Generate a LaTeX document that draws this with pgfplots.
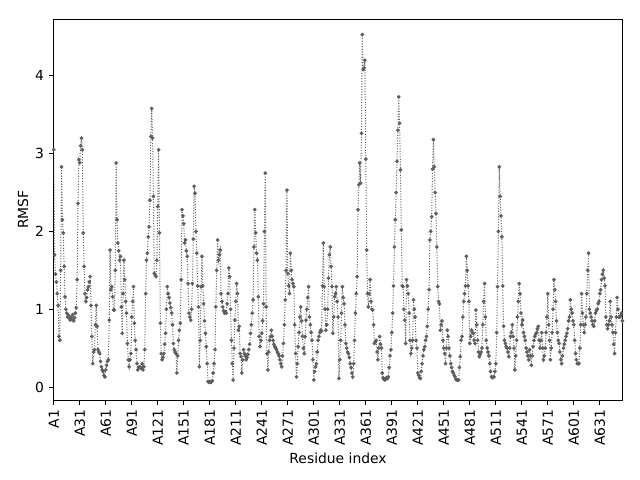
\documentclass[border=0pt]{standalone}
\usepackage{pgfplots}
\pgfplotsset{compat=1.18}
\usepackage{fontspec}
\setmainfont{DejaVu Sans}
\definecolor{lc}{RGB}{95,95,95}
\begin{document}
\begin{tikzpicture}
\useasboundingbox (-38.7bp,-57.4bp) rectangle (422.1bp,288.0bp);
\begin{axis}[
  at={(0,0)}, anchor=south west,
  scale only axis, width=409.4bp, height=274.3bp,
  xmin=0, xmax=656, ymin=-0.167, ymax=4.73,
  xtick={0,30,...,630},
  xticklabels={A1,A31,A61,A91,A121,A151,A181,A211,A241,A271,A301,A331,A361,A391,A421,A451,A481,A511,A541,A571,A601,A631},
  xticklabel style={rotate=90, anchor=east, font=\fontsize{10bp}{12bp}\selectfont},
  ytick={0,1,2,3,4},
  yticklabel style={font=\fontsize{10bp}{12bp}\selectfont},
  /pgf/number format/assume math mode=true,
  tick align=outside, tick pos=left,
  major tick length=3.5bp,
  tick style={black, line width=0.6bp},
  axis line style={black, line width=0.6bp},
  xlabel={Residue index}, ylabel={RMSF},
  label style={font=\fontsize{10bp}{12bp}\selectfont},
  xlabel style={yshift=2bp},
  ylabel style={yshift=-2bp},
]
\addplot[lc, line width=0.72bp, dash pattern=on 0.72bp off 1.2bp, mark=*, mark size=0.95bp, mark options={solid, fill=lc, draw=lc}] coordinates {
(0,3.05) (1,1.70) (2,1.45) (3,1.35) (4,1.20) (5,1.05) (6,0.65) (7,0.60) (8,1.50) (9,2.83)
(10,2.15) (11,1.98) (12,1.55) (13,1.16) (14,1.00) (15,0.95) (16,0.90) (17,0.92) (18,0.88) (19,0.86)
(20,0.90) (21,0.87) (22,0.93) (23,0.85) (24,0.89) (25,0.95) (26,1.02) (27,1.38) (28,2.36) (29,2.92)
(30,2.88) (31,3.10) (32,3.20) (33,3.05) (34,1.98) (35,1.55) (36,1.20) (37,1.10) (38,1.15) (39,1.25)
(40,1.29) (41,1.35) (42,1.42) (43,1.05) (44,0.65) (45,0.30) (46,0.45) (47,0.48) (48,0.80) (49,1.05)
(50,0.78) (51,0.48) (52,0.45) (53,0.43) (54,0.33) (55,0.26) (56,0.22) (57,0.20) (58,0.15) (59,0.13)
(60,0.22) (61,0.28) (62,0.33) (63,0.35) (64,0.86) (65,1.76) (66,1.25) (67,1.29) (68,1.16) (69,0.99)
(70,0.99) (71,1.50) (72,2.88) (73,2.15) (74,1.85) (75,1.75) (76,1.63) (77,1.68) (78,1.03) (79,0.69)
(80,1.20) (81,1.63) (82,1.38) (83,1.10) (84,0.95) (85,0.56) (86,0.35) (87,0.26) (88,0.35) (89,0.43)
(90,0.90) (91,1.10) (92,1.29) (93,0.82) (94,0.60) (95,0.48) (96,0.30) (97,0.22) (98,0.25) (99,0.26)
(100,0.25) (101,0.24) (102,0.30) (103,0.22) (104,0.26) (105,0.48) (106,1.20) (107,1.63) (108,1.72) (109,1.93)
(110,2.06) (111,2.40) (112,3.22) (113,3.58) (114,3.20) (115,2.45) (116,1.46) (117,1.44) (118,1.42) (119,1.63)
(120,2.32) (121,3.05) (122,1.98) (123,0.82) (124,0.43) (125,0.35) (126,0.38) (127,0.43) (128,0.55) (129,0.69)
(130,1.00) (131,1.29) (132,1.20) (133,1.15) (134,1.08) (135,1.02) (136,0.95) (137,0.80) (138,0.56) (139,0.48)
(140,0.45) (141,0.43) (142,0.18) (143,0.40) (144,0.60) (145,0.73) (146,0.82) (147,1.38) (148,2.28) (149,2.20)
(150,2.10) (151,1.85) (152,1.89) (153,1.75) (154,1.68) (155,1.33) (156,0.95) (157,0.90) (158,0.86) (159,1.00)
(160,1.33) (161,1.90) (162,2.58) (163,2.49) (164,2.00) (165,1.72) (166,1.30) (167,1.03) (168,0.26) (169,0.60)
(170,1.29) (171,1.68) (172,1.30) (173,1.07) (174,0.85) (175,0.69) (176,0.52) (177,0.30) (178,0.07) (179,0.06)
(180,0.07) (181,0.06) (182,0.07) (183,0.08) (184,0.18) (185,0.30) (186,0.48) (187,1.03) (188,1.50) (189,1.89)
(190,1.63) (191,1.70) (192,1.76) (193,1.20) (194,1.10) (195,1.03) (196,0.98) (197,0.95) (198,0.97) (199,0.95)
(200,1.07) (201,1.20) (202,1.53) (203,1.42) (204,1.00) (205,0.60) (206,0.30) (207,0.09) (208,0.50) (209,0.86)
(210,1.10) (211,1.33) (212,1.20) (213,0.73) (214,0.78) (215,0.43) (216,0.39) (217,0.18) (218,0.35) (219,0.48)
(220,0.43) (221,0.40) (222,0.35) (223,0.38) (224,0.42) (225,0.48) (226,0.55) (227,0.69) (228,0.80) (229,0.95)
(230,1.12) (231,1.80) (232,2.28) (233,1.98) (234,1.72) (235,1.63) (236,1.16) (237,0.65) (238,0.52) (239,0.60)
(240,0.69) (241,0.85) (242,1.07) (243,2.00) (244,2.75) (245,1.03) (246,0.43) (247,0.22) (248,0.45) (249,0.60)
(250,0.65) (251,0.73) (252,0.65) (253,0.60) (254,0.55) (255,0.52) (256,0.50) (257,0.48) (258,0.45) (259,0.43)
(260,0.40) (261,0.35) (262,0.30) (263,0.26) (264,0.40) (265,0.56) (266,0.80) (267,1.12) (268,1.50) (269,2.53)
(270,1.46) (271,1.30) (272,1.20) (273,1.72) (274,1.50) (275,1.38) (276,1.33) (277,1.29) (278,0.80) (279,0.43)
(280,0.13) (281,0.30) (282,0.52) (283,0.70) (284,0.90) (285,1.03) (286,0.85) (287,0.65) (288,0.50) (289,0.43)
(290,0.65) (291,0.86) (292,1.00) (293,1.15) (294,1.29) (295,0.90) (296,0.80) (297,0.70) (298,0.60) (299,0.35)
(300,0.09) (301,0.20) (302,0.26) (303,0.30) (304,0.45) (305,0.60) (306,0.65) (307,0.70) (308,0.73) (309,0.72)
(310,1.30) (311,1.85) (312,1.29) (313,1.00) (314,0.73) (315,0.80) (316,1.00) (317,1.40) (318,1.70) (319,1.80)
(320,1.55) (321,1.29) (322,0.69) (323,0.90) (324,1.16) (325,1.20) (326,1.29) (327,1.10) (328,0.90) (329,0.11)
(330,0.35) (331,0.60) (332,0.95) (333,1.29) (334,1.15) (335,1.07) (336,0.80) (337,0.56) (338,0.50) (339,0.45)
(340,0.43) (341,0.38) (342,0.30) (343,0.25) (344,0.18) (345,0.13) (346,0.30) (347,0.60) (348,0.95) (349,1.20)
(350,1.42) (351,2.28) (352,2.60) (353,2.88) (354,2.62) (355,3.26) (356,4.53) (357,4.08) (358,4.10) (359,4.20)
(360,2.93) (361,1.76) (362,1.20) (363,1.03) (364,1.20) (365,1.38) (366,1.10) (367,1.00) (368,0.99) (369,0.80)
(370,0.56) (371,0.58) (372,0.60) (373,0.45) (374,0.35) (375,0.50) (376,0.65) (377,0.55) (378,0.50) (379,0.18)
(380,0.12) (381,0.10) (382,0.09) (383,0.10) (384,0.12) (385,0.11) (386,0.13) (387,0.25) (388,0.40) (389,0.48)
(390,0.70) (391,0.95) (392,1.30) (393,1.80) (394,2.15) (395,2.50) (396,2.90) (397,3.30) (398,3.73) (399,3.39)
(400,2.79) (401,2.02) (402,1.30) (403,1.29) (404,1.00) (405,0.86) (406,0.56) (407,1.38) (408,1.30) (409,1.20)
(410,0.95) (411,0.60) (412,0.43) (413,0.50) (414,0.60) (415,1.12) (416,1.00) (417,0.90) (418,0.60) (419,0.50)
(420,0.18) (421,0.15) (422,0.12) (423,0.11) (424,0.20) (425,0.30) (426,0.40) (427,0.48) (428,0.52) (429,0.60)
(430,0.65) (431,0.78) (432,1.00) (433,1.25) (434,1.89) (435,2.00) (436,2.19) (437,2.80) (438,3.18) (439,2.83)
(440,2.50) (441,2.23) (442,1.80) (443,1.29) (444,1.10) (445,1.07) (446,0.73) (447,0.80) (448,0.85) (449,0.60)
(450,0.50) (451,0.43) (452,0.30) (453,0.50) (454,0.73) (455,0.65) (456,0.50) (457,0.40) (458,0.30) (459,0.25)
(460,0.20) (461,0.18) (462,0.15) (463,0.13) (464,0.10) (465,0.09) (466,0.09) (467,0.09) (468,0.25) (469,0.39)
(470,0.60) (471,0.65) (472,0.90) (473,1.10) (474,1.20) (475,1.30) (476,1.68) (477,1.50) (478,1.30) (479,1.10)
(480,0.56) (481,0.65) (482,0.73) (483,0.70) (484,0.69) (485,0.60) (486,0.56) (487,0.99) (488,0.80) (489,0.60)
(490,0.45) (491,0.39) (492,0.42) (493,0.45) (494,0.50) (495,0.80) (496,1.10) (497,1.33) (498,0.90) (499,0.60)
(500,0.50) (501,0.45) (502,0.40) (503,0.30) (504,0.20) (505,0.13) (506,0.12) (507,0.13) (508,0.13) (509,0.20)
(510,0.30) (511,0.70) (512,1.29) (513,2.00) (514,2.83) (515,2.45) (516,2.20) (517,1.93) (518,1.30) (519,0.78)
(520,0.60) (521,0.56) (522,0.52) (523,0.50) (524,0.45) (525,0.39) (526,0.50) (527,0.65) (528,0.70) (529,0.80)
(530,0.65) (531,0.50) (532,0.22) (533,0.40) (534,0.60) (535,0.90) (536,1.10) (537,1.33) (538,1.20) (539,0.95)
(540,0.80) (541,0.86) (542,0.70) (543,0.65) (544,0.60) (545,0.50) (546,0.45) (547,0.40) (548,0.35) (549,0.48)
(550,0.40) (551,0.28) (552,0.40) (553,0.52) (554,0.60) (555,0.65) (556,0.68) (557,0.70) (558,0.75) (559,0.78)
(560,0.60) (561,0.50) (562,0.60) (563,0.70) (564,0.50) (565,0.35) (566,0.40) (567,0.50) (568,0.70) (569,0.90)
(570,1.20) (571,0.80) (572,0.60) (573,0.35) (574,0.50) (575,0.70) (576,1.00) (577,1.38) (578,1.25) (579,1.10)
(580,0.85) (581,0.70) (582,0.60) (583,0.56) (584,0.45) (585,0.35) (586,0.30) (587,0.40) (588,0.50) (589,0.55)
(590,0.60) (591,0.65) (592,0.69) (593,0.75) (594,0.85) (595,0.90) (596,1.12) (597,1.00) (598,0.95) (599,0.85)
(600,0.80) (601,0.60) (602,0.43) (603,0.35) (604,0.30) (605,0.30) (606,0.30) (607,0.50) (608,0.80) (609,1.20)
(610,0.95) (611,0.80) (612,0.70) (613,0.80) (614,0.90) (615,1.20) (616,1.50) (617,1.72) (618,1.00) (619,0.95)
(620,0.90) (621,0.85) (622,0.80) (623,0.78) (624,0.85) (625,0.95) (626,0.98) (627,1.00) (628,1.07) (629,1.10)
(630,1.20) (631,1.25) (632,1.38) (633,1.45) (634,1.50) (635,1.40) (636,1.30) (637,0.90) (638,0.80) (639,0.75)
(640,0.80) (641,0.85) (642,1.10) (643,0.90) (644,0.80) (645,0.70) (646,0.55) (647,0.43) (648,0.70) (649,0.90)
(650,1.15) (651,1.00) (652,0.90) (653,0.90) (654,0.92) (655,0.95) (656,0.85)
};
\end{axis}
\end{tikzpicture}
\end{document}
